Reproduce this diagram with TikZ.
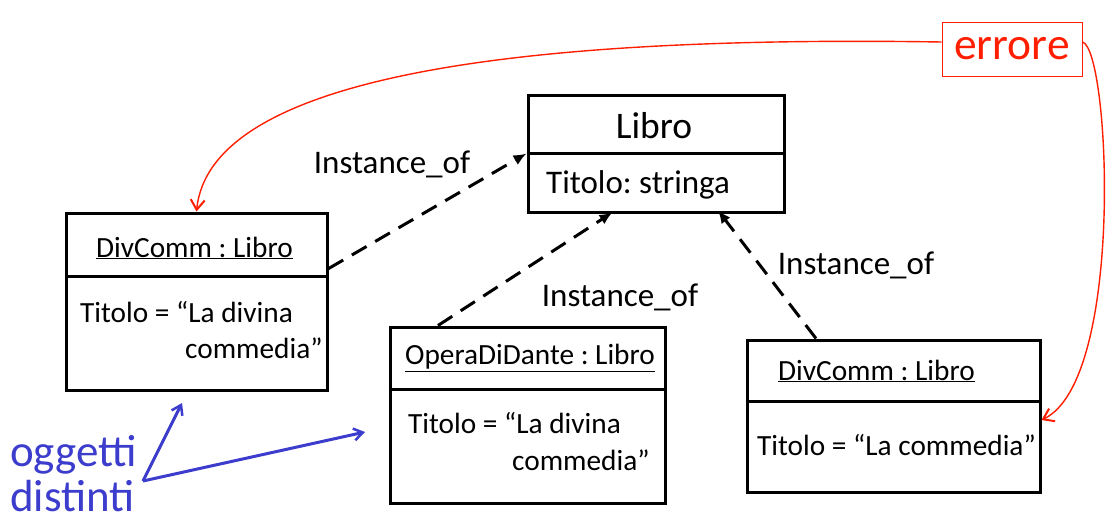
\documentclass[tikz,border=0pt]{standalone}
\usepackage{fontspec}
\setmainfont{Carlito}
\usetikzlibrary{arrows.meta}
\definecolor{errred}{RGB}{255,30,0}
\definecolor{objblue}{RGB}{60,60,205}
\frenchspacing
\begin{document}
\begin{tikzpicture}[x=1pt,y=-1pt,
  objbox/.style={draw, line width=3pt, inner sep=0pt},
  divider/.style={line width=3pt},
  txt/.style={inner sep=0pt, font=\fontsize{29.3}{35}\selectfont},
  lbl/.style={inner sep=0pt, font=\fontsize{33}{38}\selectfont},
  inst/.style={line width=3pt, dash pattern=on 17pt off 10pt, -{Latex[length=13pt,width=11pt]}},
  errarrow/.style={errred, line width=1.4pt, -{Straight Barb[length=10pt,width=14pt,line width=2pt]}},
  objarrow/.style={objblue, line width=3pt, -{Straight Barb[length=9pt,width=12pt,line width=2.5pt]}}]
\useasboundingbox (0,0) rectangle (1115,522);

% Class box Libro
\node[objbox, minimum width=256pt, minimum height=117pt] (libro) at (656,153.5) {};
\draw[divider] (libro.west |- 0,153) -- (libro.east |- 0,153);
\node[inner sep=0pt, font=\fontsize{37.5}{42}\selectfont] (libroname) at (654,126) {Libro};
\node[inner sep=0pt, font=\fontsize{33}{38}\selectfont, anchor=west] (librotit) at (546,185) {Titolo: stringa};

% Left object box
\node[objbox, minimum width=261pt, minimum height=177pt] (left) at (196.5,301.5) {};
\draw[divider] (left.west |- 0,276) -- (left.east |- 0,276);
\node[txt] (lefttitle) at (194.5,248) {\underline{DivComm : Libro}};
\node[txt, anchor=west] (lefttxt1) at (80,312) {Titolo = “La divina};
\node[txt, anchor=west] (lefttxt2) at (185,348) {commedia”};

% Middle object box
\node[objbox, minimum width=275pt, minimum height=176pt] (opera) at (527.5,415) {};
\draw[divider] (opera.west |- 0,389) -- (opera.east |- 0,389);
\node[txt] (operatitle) at (530,358) {\underline{OperaDiDante : Libro}};
\node[txt, anchor=west] (operatxt1) at (408,423) {Titolo = “La divina};
\node[txt, anchor=west] (operatxt2) at (512,460) {commedia”};

% Right object box
\node[objbox, minimum width=293pt, minimum height=152pt] (right) at (893.5,416) {};
\draw[divider] (right.west |- 0,401) -- (right.east |- 0,401);
\node[txt, anchor=west] (righttitle) at (778,371) {\underline{DivComm : Libro}};
\node[txt, anchor=west] (righttxt) at (757,445) {Titolo = “La commedia”};

% Instance_of dependencies
\draw[inst] (left.14.8) -- (libro.west);
\node[lbl] (inst1) at (392,164) {Instance\_of};
\draw[inst, shorten >=-2pt] (opera.135.8) -- (libro.233.2);
\node[lbl] (inst2) at (620,297) {Instance\_of};
\draw[inst, shorten >=-4pt] (right.135.2) -- (libro.317.4);
\node[lbl] (inst3) at (856,265) {Instance\_of};

% errore
\node[draw=errred, line width=1pt, text=errred, inner sep=0pt,
      minimum width=140pt, minimum height=54pt,
      font=\fontsize{45.5}{50}\selectfont] (errore) at (1012,49) {errore};
\draw[errarrow] ([yshift=7pt]errore.west) .. controls (500,35) and (210,80) .. (left.north);
\draw[errarrow] ([yshift=7pt]errore.east) .. controls (1110,50) and (1125,380) .. ([yshift=-4pt]right.east);

% oggetti distinti
\node[inner sep=0pt, text=objblue, align=left, anchor=west,
      font=\fontsize{45}{45}\selectfont] (ogg) at (10,474) {oggetti\\distinti};
\coordinate (ob) at (143,481);
\coordinate (ta) at (182,403);
\coordinate (tb) at (365,432);
\draw[objarrow] (ob) -- (ta);
\draw[objarrow] (ob) -- (tb);
\end{tikzpicture}
\end{document}
